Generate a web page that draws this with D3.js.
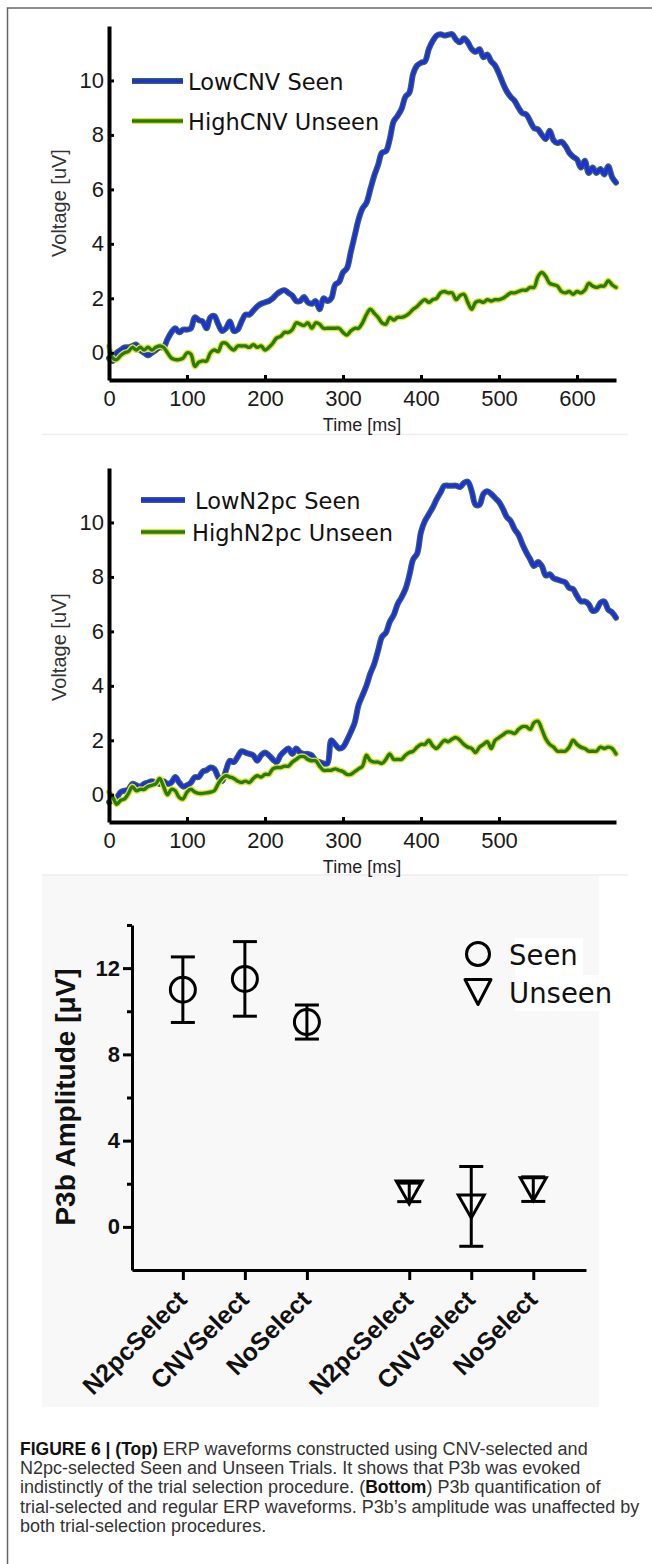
<!DOCTYPE html>
<html>
<head>
<meta charset="utf-8">
<script src="https://cdn.jsdelivr.net/npm/d3@7"></script>
<style>
  html, body { margin: 0; padding: 0; background: #fff; }
  svg { display: block; }
</style>
</head>
<body>
<svg id="fig" width="652" height="1564"></svg>
<script>
// ---------------- DATA ----------------
// Time axis (ms) of the ERP waveforms, sampled every 5 ms
const timeMs = d3.range(0, 651, 5);

// Top panel: CNV-selected trials (µV)
const lowCNVSeen = [
  -0.2,-0.3,0.0,0.1,0.2,0.2,0.25,0.3,0.1,0.0,
  -0.1,0.0,0.1,0.2,0.2,0.5,0.75,0.9,0.75,0.85,
  0.85,0.9,1.3,1.2,1.15,0.9,1.3,1.35,1.05,0.8,
  0.9,1.15,0.8,0.85,1.15,1.4,1.4,1.55,1.7,1.8,
  1.85,1.9,2.0,2.15,2.25,2.3,2.2,2.1,1.9,1.9,
  2.05,1.85,1.8,1.9,1.6,2.0,1.9,2.0,2.5,2.6,
  2.95,3.1,3.7,4.3,4.9,5.3,5.5,6.0,6.5,6.9,
  7.35,7.4,7.85,8.5,8.7,8.95,9.4,9.55,10.25,10.55,
  10.65,10.7,11.15,11.45,11.65,11.7,11.65,11.68,11.7,11.5,
  11.4,11.55,11.4,11.15,11.05,11.15,10.85,10.95,10.7,10.55,
  10.25,9.9,9.6,9.4,9.25,9.0,8.8,8.75,8.5,8.25,
  8.2,8.0,7.85,8.15,7.8,7.7,7.75,7.6,7.35,7.2,
  7.1,6.8,7.05,6.6,6.8,6.6,6.75,6.55,6.85,6.45,
  6.25
];
const highCNVUnseen = [
  0.25,-0.2,-0.25,-0.1,0.0,0.05,0.2,0.1,0.2,0.1,
  0.2,0.1,0.2,0.25,0.2,0.0,-0.2,-0.25,-0.25,-0.2,
  0.0,-0.05,-0.5,-0.35,-0.3,-0.3,0.0,0.1,0.05,0.35,
  0.35,0.2,0.1,0.25,0.25,0.25,0.2,0.3,0.2,0.25,
  0.1,0.2,0.35,0.55,0.6,0.75,0.75,0.85,1.1,1.05,
  1.0,1.1,0.9,1.1,1.05,0.9,0.9,0.9,0.9,0.9,
  0.75,0.65,0.8,0.9,0.9,1.1,1.4,1.6,1.45,1.3,
  1.1,1.05,1.3,1.2,1.3,1.3,1.35,1.45,1.6,1.7,
  1.85,1.95,1.85,1.95,2.0,2.2,2.25,2.2,2.2,1.95,
  2.1,2.15,1.85,1.6,1.85,1.9,1.85,1.95,1.9,1.95,
  1.95,2.0,2.1,2.2,2.2,2.25,2.3,2.3,2.4,2.4,
  2.8,2.95,2.8,2.55,2.5,2.45,2.25,2.2,2.25,2.15,
  2.25,2.2,2.3,2.55,2.45,2.4,2.45,2.45,2.65,2.5,
  2.4
];

// Middle panel: N2pc-selected trials (µV)
const lowN2pcSeen = [
  -0.27,-0.2,-0.1,0.1,0.15,0.2,0.4,0.35,0.3,0.4,
  0.45,0.5,0.45,0.4,0.5,0.4,0.45,0.65,0.45,0.3,
  0.35,0.45,0.65,0.65,0.85,0.9,1.0,0.95,0.65,0.5,
  0.9,1.25,1.2,1.4,1.6,1.55,1.5,1.45,1.25,1.45,
  1.55,1.45,1.3,1.2,1.45,1.6,1.7,1.5,1.7,1.55,
  1.5,1.5,1.45,1.25,1.2,1.15,1.15,2.0,1.85,1.7,
  1.75,2.0,2.3,2.65,3.3,3.65,4.0,4.45,4.8,5.3,
  5.8,5.95,6.35,6.6,7.0,7.25,7.55,8.05,8.65,8.85,
  9.65,10.05,10.3,10.55,10.85,11.1,11.35,11.35,11.35,11.35,
  11.3,11.45,11.5,11.15,10.65,10.65,11.05,11.15,11.05,10.9,
  10.75,10.5,10.2,10.05,9.75,9.55,9.2,8.9,8.65,8.4,
  8.55,8.4,8.05,8.1,7.95,7.9,7.85,7.8,7.6,7.55,
  7.3,7.1,7.1,7.0,6.75,6.8,7.05,7.1,6.8,6.7,
  6.5
];
const highN2pcUnseen = [
  0.1,-0.1,-0.35,-0.2,-0.15,0.05,0.3,0.15,0.2,0.2,
  0.3,0.35,0.4,0.6,0.3,0.0,0.2,0.15,-0.1,-0.15,
  0.1,0.2,0.1,0.05,0.05,0.07,0.1,0.15,0.4,0.6,
  0.7,0.65,0.6,0.5,0.45,0.5,0.45,0.6,0.7,0.65,
  0.75,0.75,0.95,1.0,1.0,1.05,1.05,1.2,1.3,1.4,
  1.4,1.3,1.25,1.25,1.05,0.9,0.9,0.9,0.95,0.9,
  0.85,0.75,0.75,0.85,0.95,1.05,1.45,1.25,1.2,1.2,
  1.15,1.3,1.5,1.3,1.3,1.3,1.45,1.55,1.6,1.75,
  1.85,1.85,2.0,1.8,1.7,1.85,2.0,1.95,2.05,2.1,
  2.0,1.85,1.75,1.7,1.55,1.75,1.85,1.95,1.7,2.0,
  2.1,2.2,2.3,2.3,2.25,2.4,2.5,2.5,2.4,2.65,
  2.7,2.4,2.05,1.85,1.75,1.6,1.6,1.6,1.75,2.0,
  1.85,1.75,1.7,1.6,1.6,1.6,1.75,1.7,1.75,1.7,
  1.5
];

// Tick labels
const voltageTicks = [0, 2, 4, 6, 8, 10];
const timeTicksTop = [0, 100, 200, 300, 400, 500, 600];
const timeTicksMid = [0, 100, 200, 300, 400, 500];

// Bottom panel: P3b amplitude (µV), mean and error
const p3bCategories = ["N2pcSelect", "CNVSelect", "NoSelect", "N2pcSelect", "CNVSelect", "NoSelect"];
const p3bCondition  = ["Seen", "Seen", "Seen", "Unseen", "Unseen", "Unseen"];
const p3bMean       = [11.0, 11.5, 9.5, 1.6, 0.95, 1.75];
const p3bError      = [1.52, 1.73, 0.79, 0.43, 1.85, 0.57];
const p3bTicks      = [0, 4, 8, 12];
const p3bMinorTicks = [2, 6, 10, 14];
const p3bLegend     = ["Seen", "Unseen"];

// ---------------- DRAWING ----------------
const svg = d3.select("#fig");
const ARIAL = "'Liberation Sans', Arial, Helvetica, sans-serif";
const DEJAVU = "'DejaVu Sans', Verdana, sans-serif";

svg.append("rect").attr("width", 652).attr("height", 1564).attr("fill", "#fff");

// figure frame (top and left border)
svg.append("path").attr("d", "M7.5,1564V8H652")
  .attr("fill", "none").attr("stroke", "#666").attr("stroke-width", 1.5);

// faint separators between the sub-images
svg.append("line").attr("x1", 42).attr("x2", 628).attr("y1", 434.5).attr("y2", 434.5)
  .attr("stroke", "#eeeeee").attr("stroke-width", 1.5);
svg.append("rect").attr("x", 42).attr("y", 875).attr("width", 557).attr("height", 532)
  .attr("fill", "#f8f8f8");
svg.append("line").attr("x1", 42).attr("x2", 628).attr("y1", 875).attr("y2", 875)
  .attr("stroke", "#eeeeee").attr("stroke-width", 1.5);

const seriesStyle = {
  seen:   { core: "#1d2fe3", edge: "#3d6a45", coreW: 3.6, edgeW: 6 },
  unseen: { core: "#277c10", edge: "#e3e132", coreW: 3.4, edgeW: 6 }
};

function erpPanel(cfg) {
  const x = d3.scaleLinear().domain([0, 650]).range([109, 616]);
  const y = d3.scaleLinear().domain([-1, 12]).range([cfg.bottom, cfg.top]);
  const g = svg.append("g");

  const line = d3.line()
    .x((d, i) => x(timeMs[i]))
    .y(d => y(d))
    .curve(d3.curveCatmullRom.alpha(0.5));

  cfg.series.forEach(s => {
    const st = seriesStyle[s.kind];
    g.append("path").datum(s.values).attr("d", line)
      .attr("fill", "none").attr("stroke", st.edge).attr("stroke-width", st.edgeW)
      .attr("stroke-linejoin", "round").attr("stroke-linecap", "round");
    g.append("path").datum(s.values).attr("d", line)
      .attr("fill", "none").attr("stroke", st.core).attr("stroke-width", st.coreW)
      .attr("stroke-linejoin", "round").attr("stroke-linecap", "round");
  });

  // axes
  const xa = g.append("g").attr("transform", `translate(0,${cfg.bottom})`)
    .call(d3.axisBottom(x).tickValues(cfg.xTicks).tickSize(-5).tickSizeOuter(0).tickPadding(10));
  const ya = g.append("g").attr("transform", `translate(109,0)`)
    .call(d3.axisLeft(y).tickValues(voltageTicks).tickSize(-5).tickSizeOuter(0).tickPadding(5));
  [xa, ya].forEach(a => {
    a.attr("font-family", ARIAL).attr("font-size", 22);
    a.select(".domain").attr("stroke", "#000").attr("stroke-width", 4);
    a.selectAll(".tick line").attr("stroke", "#000").attr("stroke-width", 3);
    a.selectAll(".tick text").attr("fill", "#1a1a1a");
  });

  // axis titles
  g.append("text").attr("x", 362).attr("y", cfg.bottom + 51)
    .attr("text-anchor", "middle").attr("font-family", ARIAL).attr("font-size", 18)
    .attr("fill", "#222").text("Time [ms]");
  g.append("text").attr("transform", `translate(66,${cfg.titleY}) rotate(-90)`)
    .attr("text-anchor", "middle").attr("font-family", ARIAL).attr("font-size", 20)
    .attr("fill", "#333").text("Voltage [uV]");

  // legend
  cfg.series.forEach((s, i) => {
    const st = seriesStyle[s.kind];
    const ly = cfg.legendY[i];
    g.append("line").attr("x1", cfg.legendX0).attr("x2", cfg.legendX1).attr("y1", ly).attr("y2", ly)
      .attr("stroke", st.edge).attr("stroke-width", st.edgeW);
    g.append("line").attr("x1", cfg.legendX0).attr("x2", cfg.legendX1).attr("y1", ly).attr("y2", ly)
      .attr("stroke", st.core).attr("stroke-width", st.coreW);
    g.append("text").attr("x", cfg.legendTextX[i]).attr("y", ly + 8.5)
      .attr("font-family", DEJAVU).attr("font-size", 22.5).attr("fill", "#111")
      .text(s.name);
  });
}

erpPanel({
  top: 26, bottom: 380, titleY: 203,
  xTicks: timeTicksTop,
  series: [
    { name: "LowCNV Seen", kind: "seen", values: lowCNVSeen },
    { name: "HighCNV Unseen", kind: "unseen", values: highCNVUnseen }
  ],
  legendY: [81, 121], legendX0: 132, legendX1: 183, legendTextX: [188, 188]
});

erpPanel({
  top: 468, bottom: 822, titleY: 647,
  xTicks: timeTicksMid,
  series: [
    { name: "LowN2pc Seen", kind: "seen", values: lowN2pcSeen },
    { name: "HighN2pc Unseen", kind: "unseen", values: highN2pcUnseen }
  ],
  legendY: [500, 532], legendX0: 141, legendX1: 185, legendTextX: [195, 192]
});

// ---------------- Bottom panel ----------------
(function () {
  const groupGap = 0.65;
  const slot = i => i + (i >= 3 ? groupGap : 0);
  const xb = d3.scaleLinear().domain([-0.82, 6.5]).range([132, 586]);
  const yb = d3.scaleLinear().domain([-2, 14]).range([1270, 925]);
  const g = svg.append("g");

  // y axis (major + minor)
  const ya = g.append("g").attr("transform", "translate(132,0)")
    .call(d3.axisLeft(yb).tickValues(p3bTicks).tickSize(9).tickSizeOuter(0).tickPadding(3));
  const ym = g.append("g").attr("transform", "translate(132,0)")
    .call(d3.axisLeft(yb).tickValues(p3bMinorTicks).tickSize(5).tickSizeOuter(0).tickFormat(""));
  ym.select(".domain").remove();
  const xa = g.append("g").attr("transform", "translate(0,1270)")
    .call(d3.axisBottom(xb).tickValues(p3bCategories.map((c, i) => slot(i)))
      .tickFormat((d, i) => p3bCategories[i]).tickSize(10).tickSizeOuter(0));
  [ya, ym, xa].forEach(a => {
    a.attr("font-family", ARIAL).attr("font-weight", "bold").attr("font-size", 22);
    a.select(".domain").attr("stroke", "#000").attr("stroke-width", 3);
    a.selectAll(".tick line").attr("stroke", "#000").attr("stroke-width", 3);
    a.selectAll(".tick text").attr("fill", "#111");
  });
  xa.selectAll(".tick text")
    .attr("x", 0).attr("y", 0).attr("dy", null)
    .attr("font-size", 25)
    .attr("text-anchor", "end")
    .attr("transform", "translate(5,31) rotate(-45)");

  g.append("text").attr("transform", "translate(75,1097) rotate(-90)")
    .attr("text-anchor", "middle").attr("font-family", ARIAL).attr("font-weight", "bold")
    .attr("font-size", 28).attr("fill", "#111").text("P3b Amplitude [\u03bcV]");

  // markers
  const tri = "M-13,-11.5L13,-11.5L0,11.5Z";
  p3bMean.forEach((m, i) => {
    const cx = xb(slot(i));
    const e = p3bError[i];
    const gg = g.append("g").attr("stroke", "#000").attr("stroke-width", 3).attr("fill", "none");
    gg.append("line").attr("x1", cx).attr("x2", cx).attr("y1", yb(m - e)).attr("y2", yb(m + e));
    [m - e, m + e].forEach(v => {
      gg.append("line").attr("x1", cx - 12).attr("x2", cx + 12).attr("y1", yb(v)).attr("y2", yb(v));
    });
    if (p3bCondition[i] === "Seen") {
      gg.append("circle").attr("cx", cx).attr("cy", yb(m)).attr("r", 12.5);
    } else {
      gg.append("path").attr("d", tri).attr("transform", `translate(${cx},${yb(m)})`);
    }
  });

  // legend
  const lg = g.append("g");
  lg.append("rect").attr("x", 515).attr("y", 938).attr("width", 68).attr("height", 37).attr("fill", "#fff");
  lg.append("rect").attr("x", 515).attr("y", 975).attr("width", 85).attr("height", 36).attr("fill", "#fff");
  const legendTri = "M-13,-12.5L13,-12.5L0,12.5Z";
  p3bLegend.forEach((name, i) => {
    const ly = 954 + i * 38;
    if (name === "Seen") {
      lg.append("circle").attr("cx", 478).attr("cy", ly).attr("r", 11.5)
        .attr("fill", "none").attr("stroke", "#000").attr("stroke-width", 3);
    } else {
      lg.append("path").attr("d", legendTri).attr("transform", `translate(478,${ly})`)
        .attr("fill", "none").attr("stroke", "#000").attr("stroke-width", 3)
        .attr("stroke-linejoin", "round");
    }
    lg.append("text").attr("x", 509).attr("y", ly + 10.5)
      .attr("font-family", DEJAVU).attr("font-size", 27.5).attr("fill", "#111").text(name);
  });
})();

// ---------------- Caption ----------------
const captionLines = [
  [["FIGURE 6 | (Top)", true], [" ERP waveforms constructed using CNV-selected and", false]],
  [["N2pc-selected Seen and Unseen Trials. It shows that P3b was evoked", false]],
  [["indistinctly of the trial selection procedure. (", false], ["Bottom", true], [") P3b quantification of", false]],
  [["trial-selected and regular ERP waveforms. P3b\u2019s amplitude was unaffected by", false]],
  [["both trial-selection procedures.", false]]
];
const cap = svg.append("g").attr("font-family", ARIAL).attr("fill", "#333");
captionLines.forEach((parts, i) => {
  const t = cap.append("text").attr("x", 20).attr("y", 1455 + i * 19.2);
  parts.forEach(([s, b]) => {
    t.append("tspan").attr("font-weight", b ? "bold" : "normal")
      .attr("font-size", b ? 17.5 : 18)
      .attr("fill", b ? "#111" : "#333").text(s);
  });
});
</script>
</body>
</html>
